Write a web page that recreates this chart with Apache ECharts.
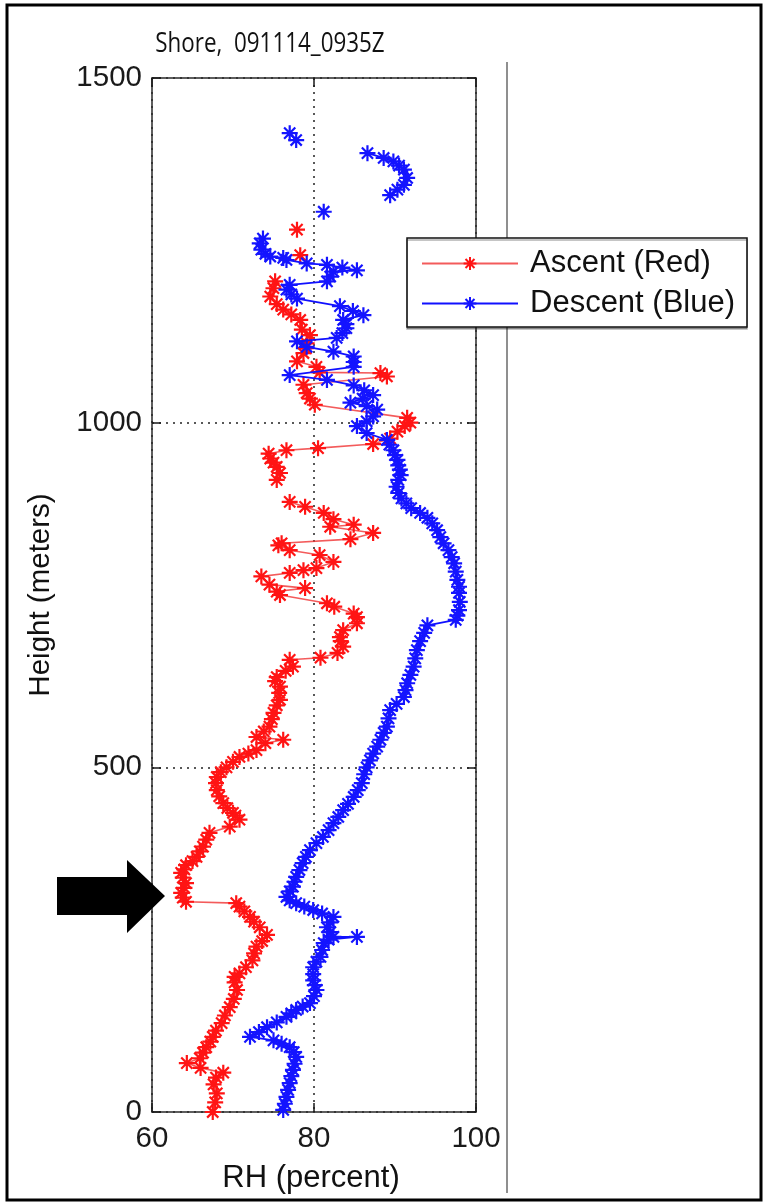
<!DOCTYPE html>
<html>
<head>
<meta charset="utf-8">
<title>Shore, 091114_0935Z</title>
<script src="https://cdn.jsdelivr.net/npm/echarts@6/dist/echarts.min.js"></script>
<style>
  html, body { margin: 0; padding: 0; background: #ffffff; }
  #chart { width: 764px; height: 1204px; }
</style>
</head>
<body>
<div id="chart"></div>
<script>
// Relative humidity profile, ascent vs descent (height in metres, RH in percent).
// A null entry marks a gap in the record: the line is broken there.
const ascentHeight = [
  0, 14, 27, 40, 50, 57, 64, 71, 78, 86,
  94, 102, 109, 118, 129, 140, 152, 164, 177, 188,
  196, 201, 210, 220, 230, 240, 248, 257, 268, 276,
  283, 291, 298, 303, 305, 311, 318, 325, 332, 340,
  347, 352, 358, 364, 370, 378, 385, 395, 405, 414,
  424, 430, 434, 441, 448, 458, 467, 477, 486, 493,
  500, 508, 515, 520, 525, 535, 540, 544, 552, 559,
  570, 579, 590, 598, 608, 617, 625, 631, 640, 646,
  656, 659, 666, 675, 683, 689, 699, 709, 718, 723,
  733, 738, 750, 755, 760, 765, 777, 782, 786, 789,
  798, 808, 815, 822, 825, 831, 840, 849, 852, 860,
  869, 878, 885, null, 917, 927, 936, 942, 948, 955, 960,
  963, 969, 977, 987, 995, 1000, 1007, 1026, 1035, 1043,
  1055, 1067, 1072, 1073, 1081, 1089, 1101, 1108, 1115, 1127,
  1135, 1149, 1157, 1164, 1172, 1183, 1195, 1205, null, 1243, null, 1280
];
const ascentRH = [
  67.5, 67.8, 68.0, 67.6, 67.9, 68.8, 66.0, 64.3, 65.9, 66.3,
  66.7, 67.2, 67.5, 67.9, 68.6, 69.0, 69.6, 70.1, 70.5, 70.2,
  70.2, 70.8, 71.6, 72.4, 72.6, 72.9, 73.6, 74.2, 73.3, 72.6,
  72.1, 71.4, 70.8, 70.4, 64.2, 63.8, 63.6, 64.0, 64.2, 63.8,
  63.6, 64.0, 64.2, 65.0, 65.5, 65.9, 66.3, 66.7, 67.1, 69.6,
  70.8, 70.3, 70.0, 69.3, 68.8, 68.3, 68.0, 67.9, 68.0, 68.5,
  69.2, 70.0, 70.8, 71.9, 72.9, 74.0, 76.2, 72.9, 73.8, 74.5,
  74.8, 75.0, 75.4, 75.8, 75.7, 75.8, 75.2, 75.4, 76.5, 77.4,
  77.0, 80.8, 82.9, 83.6, 83.3, 83.2, 83.6, 85.3, 85.3, 84.9,
  82.5, 81.6, 75.8, 75.4, 78.9, 74.5, 73.5, 77.0, 78.7, 80.3,
  82.4, 80.7, 77.0, 75.6, 76.0, 84.5, 87.3, 82.0, 84.9, 82.4,
  81.2, 78.9, 77.0, null, 75.4, 75.8, 75.4, 75.0, 74.6, 74.4, 76.6,
  80.5, 87.3, 89.4, 90.3, 91.2, 91.9, 91.5, 80.1, 79.5, 79.1,
  78.7, 89.0, 88.2, 80.7, 80.3, 77.9, 78.7, 79.0, 79.1, 79.5,
  78.5, 78.3, 77.2, 76.2, 75.4, 74.6, 75.0, 75.2, null, 78.3, null, 77.9
];

const descentHeight = [
  1420, 1410, null, 1391, 1384, 1379, 1373, 1367, 1355, 1345, 1338,
  1330, null, 1306, null, 1267, 1260, 1251, 1245, 1241, 1239, 1236, 1231,
  1229, 1225, 1221, 1219, 1212, 1205, 1200, 1193, 1186, 1180,
  1169, 1162, 1156, 1149, 1143, 1137, 1130, 1123, 1118, 1110,
  1103, 1096, 1088, 1081, 1069, 1062, 1054, 1047, 1040, 1035,
  1029, 1024, 1019, 1009, 1002, 995, 985, 975, 968, 960,
  953, 946, 938, 932, null, 924, 917, 907, 898, 890, 883,
  876, 869, 862, 854, 844, 834, 825, 815, 805, 796,
  784, 772, 762, 753, 740, 728, 720, 714, 706, 695,
  683, 670, 658, 646, 634, 622, 612, 602, 592, 583,
  571, 559, 550, 540, 530, 520, 510, 500, 490, 477,
  467, 457, 447, 438, 428, 419, 409, 399, 390, 380,
  370, 361, 351, 341, 334, 327, 320, 312, 307, 303,
  298, 293, 288, 283, 275, 268, 261, 254, 254, 250,
  245, 235, 225, 218, 210, 200, 191, 184, 177, 168,
  158, 153, 148, 143, 138, 130, 123, 116, 109, 104,
  99, 94, 87, 80, 70, 61, 52, 42, 32, 22,
  12, 3
];
const descentRH = [
  77.0, 77.8, null, 86.6, 88.6, 89.8, 90.5, 91.1, 91.5, 91.1, 90.3,
  89.4, null, 81.2, null, 73.7, 73.3, 73.5, 74.0, 74.6, 76.2, 76.6, 79.1,
  81.6, 83.5, 85.3, 82.4, 82.0, 81.6, 77.0, 76.6, 77.2, 77.9,
  83.2, 84.8, 86.1, 83.6, 84.0, 84.0, 83.5, 82.8, 77.9, 79.1,
  82.4, 84.9, 84.9, 84.9, 77.0, 81.6, 84.9, 86.2, 87.3, 86.0,
  84.5, 86.5, 87.8, 87.3, 86.5, 85.3, 86.5, 89.0, 89.3, 89.8,
  90.0, 90.3, 90.4, 90.6, null, 90.7, 90.4, 90.2, 90.4, 90.8, 91.4,
  92.0, 93.1, 94.0, 94.6, 95.2, 95.6, 96.0, 96.6, 97.0, 97.3,
  97.5, 97.7, 97.9, 97.9, 98.0, 97.9, 97.7, 97.5, 94.0, 93.6,
  93.1, 92.7, 92.5, 92.3, 91.9, 91.5, 91.3, 91.1, 90.2, 89.4,
  89.2, 89.0, 88.6, 88.2, 87.8, 87.3, 86.9, 86.5, 86.2, 85.9,
  85.4, 84.9, 84.2, 83.6, 83.0, 82.4, 81.8, 81.1, 80.3, 79.5,
  79.0, 78.6, 78.2, 77.8, 77.6, 77.4, 77.0, 76.6, 77.0, 77.8,
  78.8, 79.9, 81.0, 82.4, 82.0, 81.6, 82.0, 82.4, 85.3, 81.8,
  81.2, 81.0, 80.8, 80.3, 79.9, 79.9, 79.9, 80.1, 80.3, 80.0,
  79.5, 78.6, 77.8, 77.2, 76.6, 75.4, 74.2, 73.2, 72.1, 75.0,
  76.0, 77.0, 77.5, 77.8, 77.6, 77.4, 77.2, 77.0, 76.8, 76.6,
  76.4, 76.2
];

const rhTicks = [60, 80, 100];
const heightTicks = [0, 500, 1000, 1500];
const seriesNames = ['Ascent (Red)', 'Descent (Blue)'];
const titleText = 'Shore,  091114_0935Z';

function pairs(xs, ys) {
  return xs.map(function (x, i) { return [x, ys[i]]; });
}

// asterisk marker: a "+" overlaid with an "x"
const asterisk = 'path://M10,0L10,20M0,10L20,10M3,3L17,17M3,17L17,3';

const labelFont = 'Liberation Sans';
const frameColor = '#2a2a2a';

function axisBase(extra) {
  return Object.assign({
    type: 'value',
    axisLine: { show: true, onZero: false, lineStyle: { color: frameColor, width: 1.5 } },
    axisTick: { show: true, inside: true, length: 9, lineStyle: { color: '#1a1a1a', width: 1.5 } },
    splitLine: { show: false }
  }, extra);
}

const chart = echarts.init(document.getElementById('chart'), null, { renderer: 'canvas' });

chart.setOption({
  animation: false,
  backgroundColor: '#ffffff',
  grid: { left: 152, top: 78, width: 324, height: 1034, containLabel: false },
  xAxis: [
    axisBase({
      min: rhTicks[0], max: rhTicks[rhTicks.length - 1], interval: rhTicks[1] - rhTicks[0],
      position: 'bottom',
      axisLabel: { fontSize: 29.5, fontFamily: labelFont, color: '#1a1a1a', margin: 12 },
      splitLine: { show: true, lineStyle: { type: [2, 5], color: '#222', width: 1.5 } }
    }),
    axisBase({
      min: rhTicks[0], max: rhTicks[rhTicks.length - 1], interval: rhTicks[1] - rhTicks[0],
      position: 'top',
      axisLabel: { show: false }
    })
  ],
  yAxis: [
    axisBase({
      min: heightTicks[0], max: heightTicks[heightTicks.length - 1], interval: heightTicks[1] - heightTicks[0],
      position: 'left',
      axisLabel: {
        fontSize: 29.5, fontFamily: labelFont, color: '#1a1a1a', margin: 10,
        formatter: function (v) { return String(v); }
      },
      splitLine: { show: true, lineStyle: { type: [2, 5], color: '#222', width: 1.5 } }
    }),
    axisBase({
      min: heightTicks[0], max: heightTicks[heightTicks.length - 1], interval: heightTicks[1] - heightTicks[0],
      position: 'right',
      axisLabel: { show: false }
    })
  ],
  legend: {
    orient: 'vertical',
    left: 407,
    top: 238,
    data: seriesNames,
    backgroundColor: '#ffffff',
    borderColor: '#111',
    borderWidth: 1.5,
    borderRadius: 0,
    padding: [10, 12, 8, 14],
    itemWidth: 96,
    itemHeight: 16,
    itemGap: 9,
    shadowColor: 'rgba(0,0,0,0.3)',
    shadowBlur: 0,
    shadowOffsetX: 0,
    shadowOffsetY: 2,
    textStyle: { fontSize: 31, fontFamily: labelFont, color: '#111', padding: [0, 0, 0, 7] },
    z: 10
  },
  series: [
    {
      name: seriesNames[0],
      type: 'line',
      xAxisIndex: 0,
      yAxisIndex: 0,
      data: pairs(ascentRH, ascentHeight),
      connectNulls: false,
      symbol: asterisk,
      symbolSize: 16,
      showAllSymbol: true,
      lineStyle: { color: 'rgba(240,50,50,0.8)', width: 1.6 },
      itemStyle: { color: '#ff1414', borderColor: '#ff1414', borderWidth: 2.2 },
      z: 2
    },
    {
      name: seriesNames[1],
      type: 'line',
      xAxisIndex: 0,
      yAxisIndex: 0,
      data: pairs(descentRH, descentHeight),
      connectNulls: false,
      symbol: asterisk,
      symbolSize: 16,
      showAllSymbol: true,
      lineStyle: { color: '#1010ff', width: 1.8 },
      itemStyle: { color: '#1414ff', borderColor: '#1414ff', borderWidth: 2.2 },
      z: 3
    }
  ],
  graphic: [
    {
      type: 'rect', z: 0, silent: true,
      shape: { x: 7, y: 5, width: 754, height: 1195 },
      style: { fill: 'none', stroke: '#000', lineWidth: 3 }
    },
    {
      type: 'line', z: 1, silent: true,
      shape: { x1: 507, y1: 62, x2: 507, y2: 1193 },
      style: { stroke: '#6a6a6a', lineWidth: 1.5 }
    },
    {
      type: 'polygon', z: 20, silent: true,
      shape: { points: [[57, 877], [127, 877], [127, 860], [165, 896], [127, 933], [127, 915], [57, 915]] },
      style: { fill: '#000' }
    },
    {
      type: 'text', z: 5, silent: true,
      x: 270, y: 44, scaleX: 0.8,
      style: { text: titleText, fontSize: 28, fontFamily: '"Open Sans"', fill: '#111', align: 'center', verticalAlign: 'middle' }
    },
    {
      type: 'text', z: 5, silent: true,
      x: 311, y: 1178,
      style: { text: 'RH (percent)', fontSize: 31, fontFamily: labelFont, fill: '#111', align: 'center', verticalAlign: 'middle' }
    },
    {
      type: 'text', z: 5, silent: true,
      x: 41, y: 595, rotation: Math.PI / 2,
      style: { text: 'Height (meters)', fontSize: 29.5, fontFamily: labelFont, fill: '#111', align: 'center', verticalAlign: 'middle' }
    }
  ]
});
</script>
</body>
</html>
